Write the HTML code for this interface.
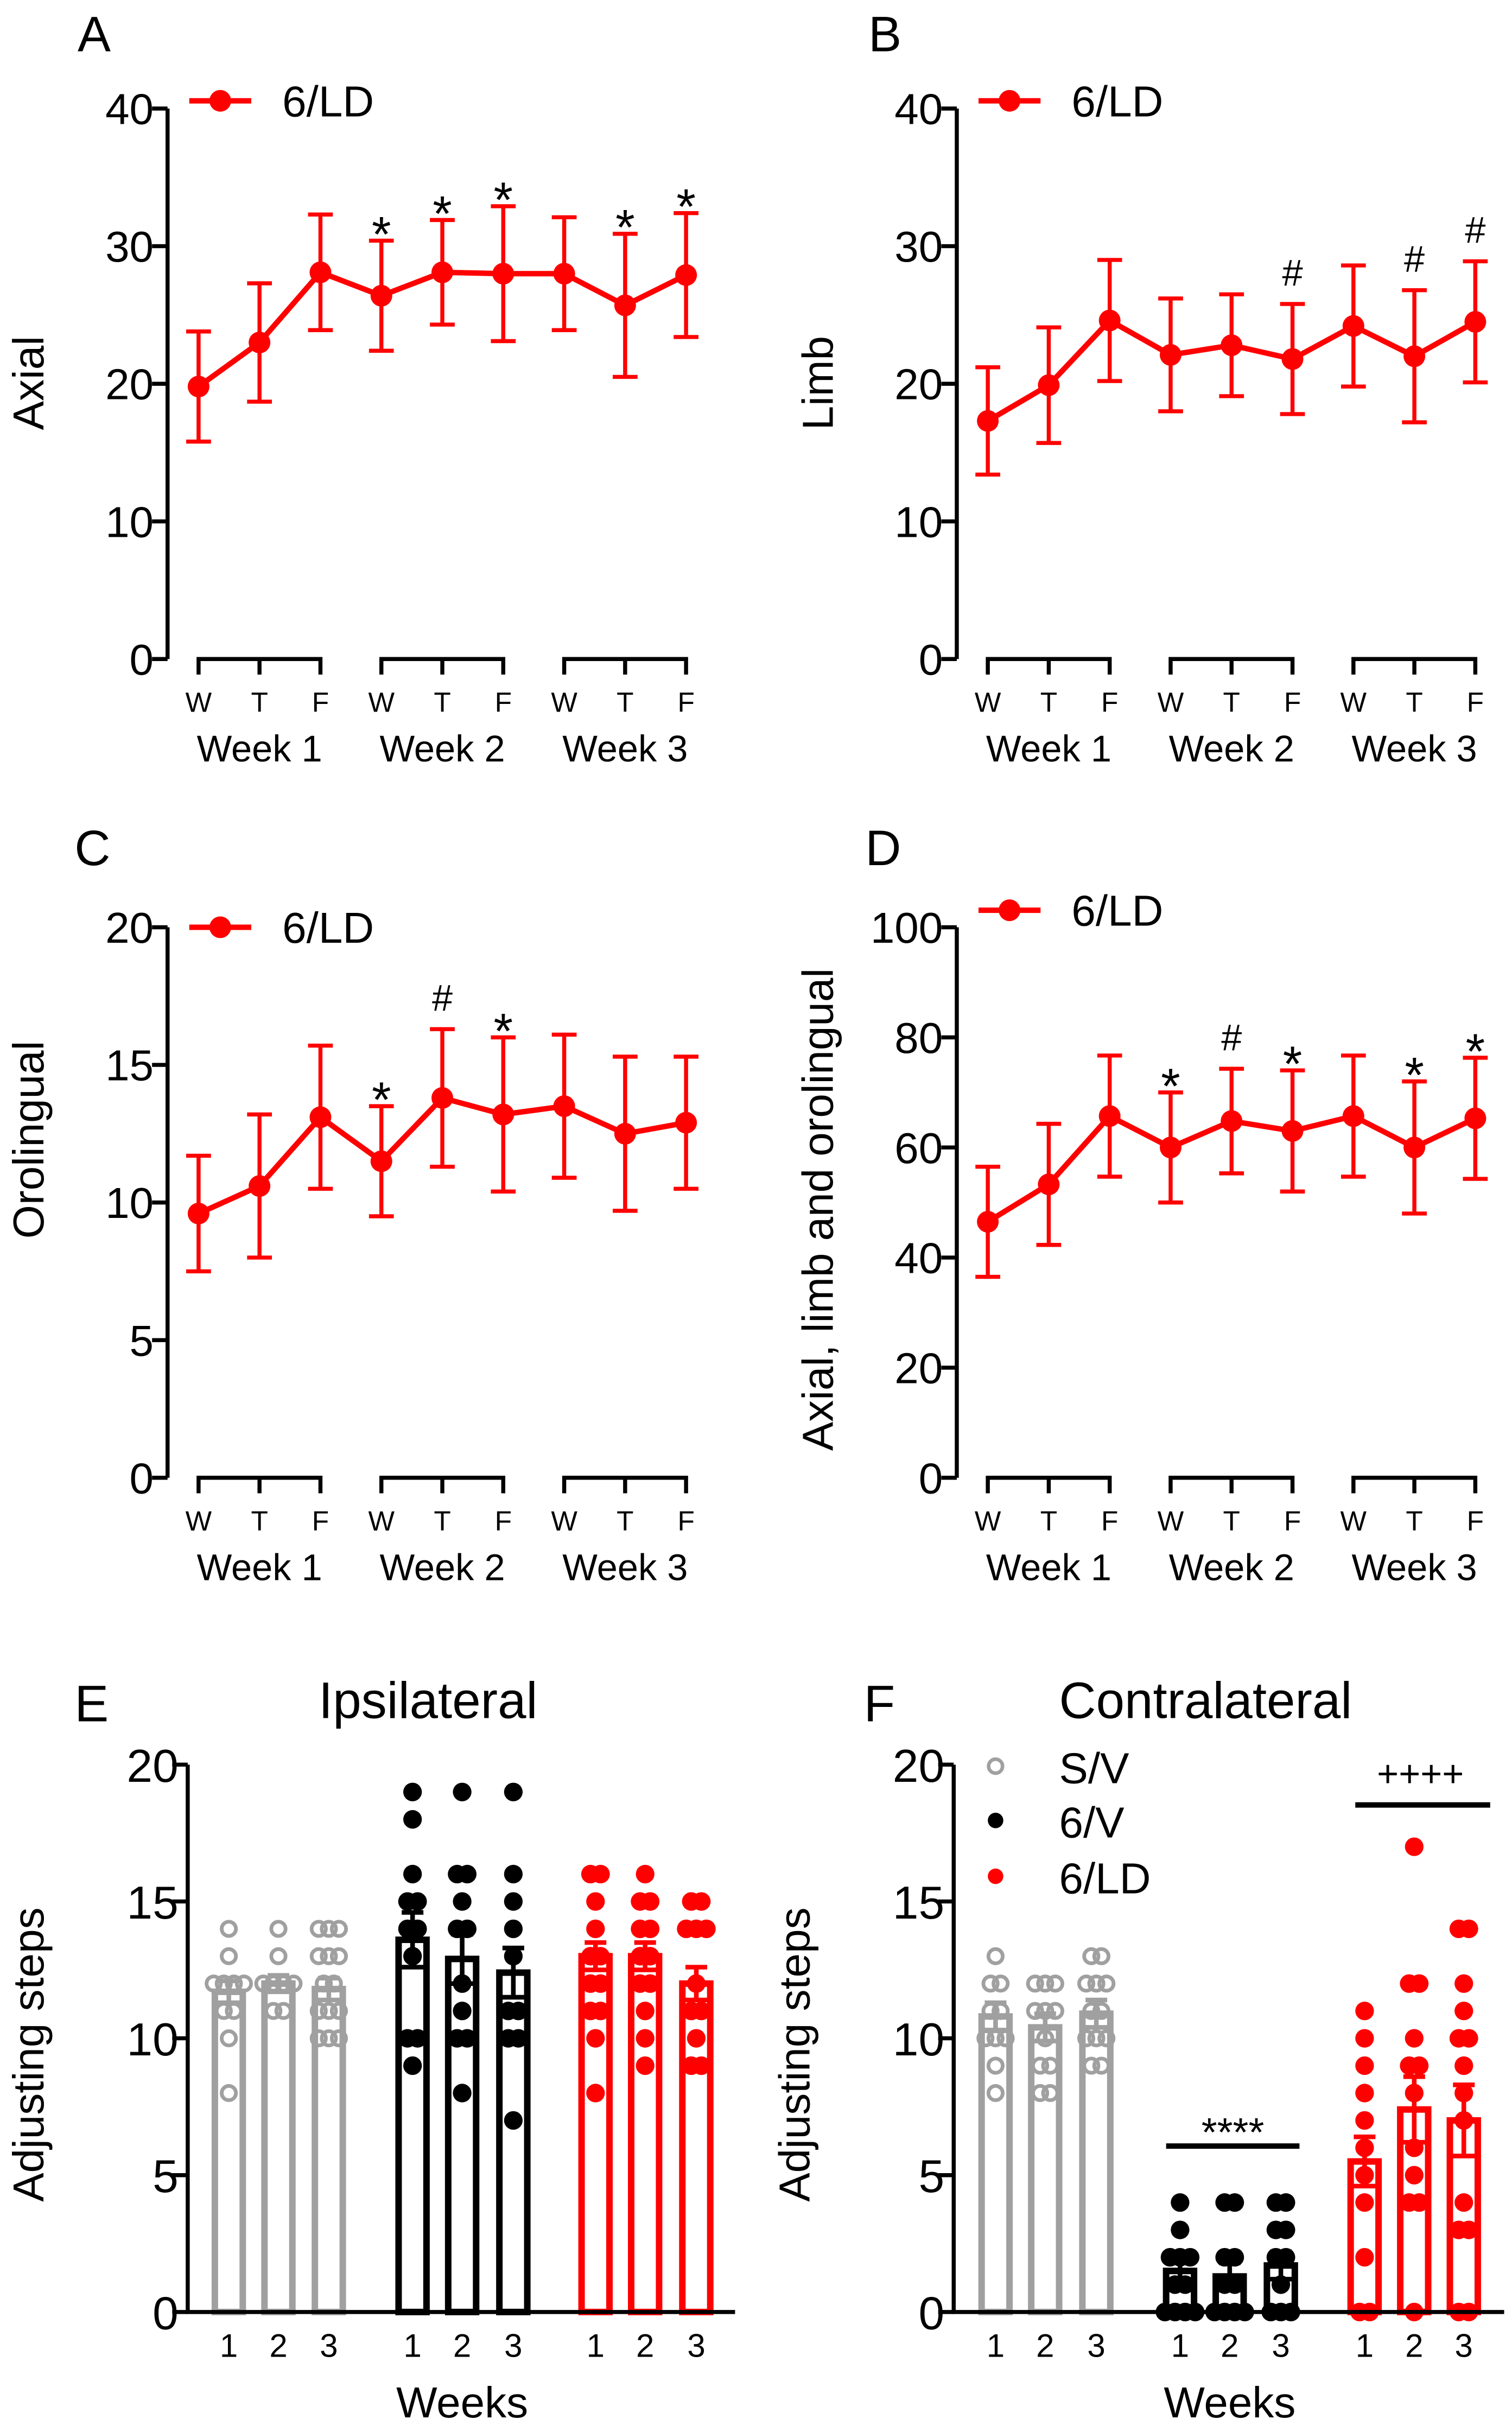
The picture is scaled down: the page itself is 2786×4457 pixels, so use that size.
<!DOCTYPE html>
<html><head><meta charset="utf-8">
<style>
html,body{margin:0;padding:0;background:#fff;}
svg{display:block;font-family:"Liberation Sans",Arial,sans-serif;}
</style></head>
<body>
<svg id="fig" xmlns="http://www.w3.org/2000/svg" width="2786" height="4457" viewBox="0 0 975 1560"></svg>
<script>
// ---------- data ----------
const days = ['W','T','F','W','T','F','W','T','F'];
const weekLabels = ['Week 1','Week 2','Week 3'];
const axialMean = [19.8,23.0,28.1,26.4,28.1,28.0,28.0,25.7,27.9];
const axialErr  = [4.0,4.3,4.2,4.0,3.8,4.9,4.1,5.2,4.5];
const axialMarks = ['','','','*','*','*','','*','*'];
const limbMean = [17.3,19.9,24.6,22.1,22.8,21.8,24.2,22.0,24.5];
const limbErr  = [3.9,4.2,4.4,4.1,3.7,4.0,4.4,4.8,4.4];
const limbMarks = ['','','','','','#','','#','#'];
const oroMean = [9.6,10.6,13.1,11.5,13.8,13.2,13.5,12.5,12.9];
const oroErr  = [2.1,2.6,2.6,2.0,2.5,2.8,2.6,2.8,2.4];
const oroMarks = ['','','','*','#','*','','',''];
const totMean = [46.5,53.3,65.7,60.0,64.8,63.0,65.7,60.0,65.3];
const totErr  = [10,11,11,10,9.5,11,11,12,11];
const totMarks = ['','','','*','#','*','','*','*'];
const ticks40 = [0,10,20,30,40];
const ticks20 = [0,5,10,15,20];
const ticks100 = [0,20,40,60,80,100];
const groups = ['S/V','6/V','6/LD'];
const weekNums = ['1','2','3'];
// Ipsilateral
const ipsiMean = [11.7,12.0,11.8, 13.6,12.9,12.4, 13.0,13.0,12.0];
const ipsiErr  = [0.4,0.3,0.4, 1.0,0.9,0.9, 0.5,0.5,0.6];
const ipsiPts = [
 [14,13,12,12,12,12,11,11,10,8],
 [14,13,12,12,12,12,11,11],
 [14,14,14,13,13,13,12,12,11,11,11,10,10,10],
 [19,18,16,15,15,14,14,13,10,10,9],
 [19,16,16,15,14,14,12,11,10,10,8],
 [19,16,15,14,13,11,11,10,10,7],
 [16,16,15,14,13,13,12,12,11,11,10,8],
 [16,15,15,14,14,13,13,12,12,11,10,9],
 [15,15,14,14,14,12,11,11,10,9,9]
];
// Contralateral
const contraMean = [10.8,10.4,10.9, 1.5,1.3,1.7, 5.5,7.4,7.0];
const contraErr  = [0.5,0.5,0.5, 0.5,0.5,0.5, 0.9,1.2,1.3];
const contraPts = [
 [13,12,12,11,11,10,10,10,9,8],
 [12,12,12,11,11,11,10,9,9,8,8],
 [13,13,12,12,12,11,11,10,10,10,9,9],
 [4,3,2,2,2,1,1,0,0,0,0],
 [4,4,2,2,1,1,0,0,0,0],
 [4,4,3,3,2,2,1,0,0,0],
 [11,10,9,8,7,6,5,4,2,0,0],
 [17,12,12,10,9,9,8,6,5,4,4,0],
 [14,14,12,11,10,10,9,8,7,4,3,3,0,0]
];

// ---------- helpers ----------
const NS='http://www.w3.org/2000/svg';
const svg=document.getElementById('fig');
function mk(tag, attrs, parent){
  const e=document.createElementNS(NS,tag);
  for(const k in attrs) e.setAttribute(k,attrs[k]);
  (parent||svg).appendChild(e);
  return e;
}
function txt(s, x, y, size, anchor, parent, fill){
  const t=mk('text',{x:x,y:y,'font-size':size,'text-anchor':anchor||'start',fill:fill||'#000'},parent);
  t.textContent=s;
  return t;
}
const RED='#ff0000', GRAY='#a0a0a0';

// ---------- line panels ----------
function linePanel(name, ox, y0, yTop, maxV, ticks, means, errs, marks, ylabel, ylabelY, legendY, letter, letterX, letterY){
  const g=mk('g',{});
  
  
  const ys=v=>y0-(v/maxV)*(y0-yTop);
  const xs=i=>ox+20+i*39.3;
  const L=txt(letter, letterX, letterY, 32, 'start', g);
  
  
  const ax=mk('line',{x1:ox,y1:yTop,x2:ox,y2:y0,stroke:'#000','stroke-width':2.6},g);
  
  
  ticks.forEach(v=>{
    const tk=mk('line',{x1:ox-10,y1:ys(v),x2:ox,y2:ys(v),stroke:'#000','stroke-width':2.6},g);
    
    
    const tl=txt(String(v), ox-9, ys(v)+10, 28, 'end', g);
    
    
  });
  const yl=txt(ylabel, 0, 0, 28, 'middle', g);
  yl.setAttribute('transform','translate('+(ox-80)+','+ylabelY+') rotate(-90)');
  
  
  for(let w=0;w<3;w++){
    const a=xs(w*3), b=xs(w*3+2);
    const br=mk('path',{d:'M'+a+','+(y0+10)+'V'+y0+'H'+b+'V'+(y0+10)+'M'+xs(w*3+1)+','+y0+'V'+(y0+10),fill:'none',stroke:'#000','stroke-width':2.6},g);
    
    
    const wl=txt(weekLabels[w], xs(w*3+1), y0+66, 24, 'middle', g);
    
    
  }
  days.forEach((d,i)=>{
    const dl=txt(d, xs(i), y0+34, 18, 'middle', g);
    
    
  });
  means.forEach((m,i)=>{
    const hi=ys(m+errs[i]), lo=ys(m-errs[i]), x=xs(i);
    const eb=mk('path',{d:'M'+x+','+hi+'V'+lo+'M'+(x-8)+','+hi+'H'+(x+8)+'M'+(x-8)+','+lo+'H'+(x+8),stroke:RED,'stroke-width':2.6,fill:'none'},g);
    
    
    if(marks[i]){
      const isHash=marks[i]==='#';
      const mt=txt(marks[i], x, isHash? hi-12 : hi+7, isHash?24:32, 'middle', g);
      
      
    }
  });
  const pl=mk('polyline',{points:means.map((m,i)=>xs(i)+','+ys(m)).join(' '),fill:'none',stroke:RED,'stroke-width':3.5},g);
  
  
  means.forEach((m,i)=>{
    const c=mk('circle',{cx:xs(i),cy:ys(m),r:7,fill:RED},g);
    
    
  });
  const lg=mk('g',{},g);
  
  
  mk('line',{x1:ox+14,y1:legendY,x2:ox+54,y2:legendY,stroke:RED,'stroke-width':3.5},lg);
  mk('circle',{cx:ox+34,cy:legendY,r:7,fill:RED},lg);
  txt('6/LD', ox+74, legendY+10, 28, 'start', lg);
}
linePanel('panel-a-axial',108,425,70,40,ticks40,axialMean,axialErr,axialMarks,'Axial',247,65,'A',50,33);
linePanel('panel-b-limb',617,425,70,40,ticks40,limbMean,limbErr,limbMarks,'Limb',247,65,'B',560,33);
linePanel('panel-c-orolingual',108,953,598,20,ticks20,oroMean,oroErr,oroMarks,'Orolingual',735,598,'C',48,558);
linePanel('panel-d-total',617,953,598,100,ticks100,totMean,totErr,totMarks,'Axial, limb and orolingual',780,587,'D',558,558);

// ---------- bar panels ----------
function barPanel(name, ox, xEnd, centers, means, errs, pts, title, titleX, anchor, letter, letterX){
  const g=mk('g',{});
  
  
  const y0=1491, yTop=1138;
  const ys=v=>y0-(v/20)*(y0-yTop);
  const L=txt(letter, letterX, 1110, 33, 'start', g);
  
  
  const T=txt(title, titleX, 1108, 33, anchor, g);
  
  
  const cols=[GRAY,GRAY,GRAY,'#000','#000','#000',RED,RED,RED];
  means.forEach((m,i)=>{
    const x=centers[i];
    const b=mk('rect',{x:x-9,y:ys(m),width:18,height:y0-ys(m),fill:'#fff',stroke:cols[i],'stroke-width':4.2},g);
    
    
  });
  pts.forEach((arr,i)=>{
    const x=centers[i];
    const seen={};
    const count={};
    arr.forEach(v=>{count[v]=(count[v]||0)+1;});
    arr.forEach(v=>{
      const k=seen[v]||0; seen[v]=k+1;
      const off=(k-(count[v]-1)/2)*6.5;
      const hollow=i<3;
      const c=mk('circle',{cx:x+off,cy:ys(v),r:hollow?4.6:6,fill:hollow?'none':cols[i],stroke:hollow?GRAY:'none','stroke-width':2.4},g);
      
      
    });
  });
  means.forEach((m,i)=>{
    const x=centers[i], hi=ys(m+errs[i]), lo=ys(m-errs[i]);
    const eb=mk('path',{d:'M'+x+','+hi+'V'+lo+'M'+(x-7)+','+hi+'H'+(x+7)+'M'+(x-7)+','+lo+'H'+(x+7),stroke:cols[i],'stroke-width':3,fill:'none'},g);
    
    
  });
  const ax=mk('path',{d:'M'+ox+','+yTop+'V'+y0+'H'+xEnd,fill:'none',stroke:'#000','stroke-width':2.6},g);
  
  
  ticks20.forEach(v=>{
    const tk=mk('line',{x1:ox-10,y1:ys(v),x2:ox,y2:ys(v),stroke:'#000','stroke-width':2.6},g);
    
    
    const tl=txt(String(v), ox-6, ys(v)+11, 30, 'end', g);
    
    
  });
  centers.forEach((x,i)=>{
    const xl=txt(weekNums[i%3], x, 1520, 21, 'middle', g);
    
    
  });
  const xt=txt('Weeks', centers[4], 1559, 28, 'middle', g);
  
  
  const yl=txt('Adjusting steps', 0, 0, 28, 'middle', g);
  yl.setAttribute('transform','translate('+(ox-93)+',1325) rotate(-90)');
  
  
  return {g:g, ys:ys};
}
barPanel('panel-e-ipsilateral',121,474,[147.5,179.5,212,266,298,331,384,416,449],ipsiMean,ipsiErr,ipsiPts,'Ipsilateral',276,'middle','E',48);
const F=barPanel('panel-f-contralateral',615,970,[642,674,707,761,793,826,880,912,944],contraMean,contraErr,contraPts,'Contralateral',683,'start','F',557);

const legF=mk('g',{});


const legCols=[GRAY,'#000',RED];
const legY=[1139,1174,1210];
groups.forEach((gname,i)=>{
  const e=mk('g',{},legF);
  
  
  mk('circle',{cx:642,cy:legY[i],r:i===0?4.5:5,fill:i===0?'none':legCols[i],stroke:i===0?GRAY:'none','stroke-width':2.3},e);
  txt(gname, 683, legY[i]+11, 28, 'start', e);
});
const s1=mk('line',{x1:752,y1:1384,x2:838,y2:1384,stroke:'#000','stroke-width':3.5});


const s1t=txt('****', 795, 1384, 26, 'middle');


const s2=mk('line',{x1:874,y1:1164,x2:961,y2:1164,stroke:'#000','stroke-width':3.5});


const s2t=txt('++++', 916, 1152, 24, 'middle');


</script>
</body></html>
